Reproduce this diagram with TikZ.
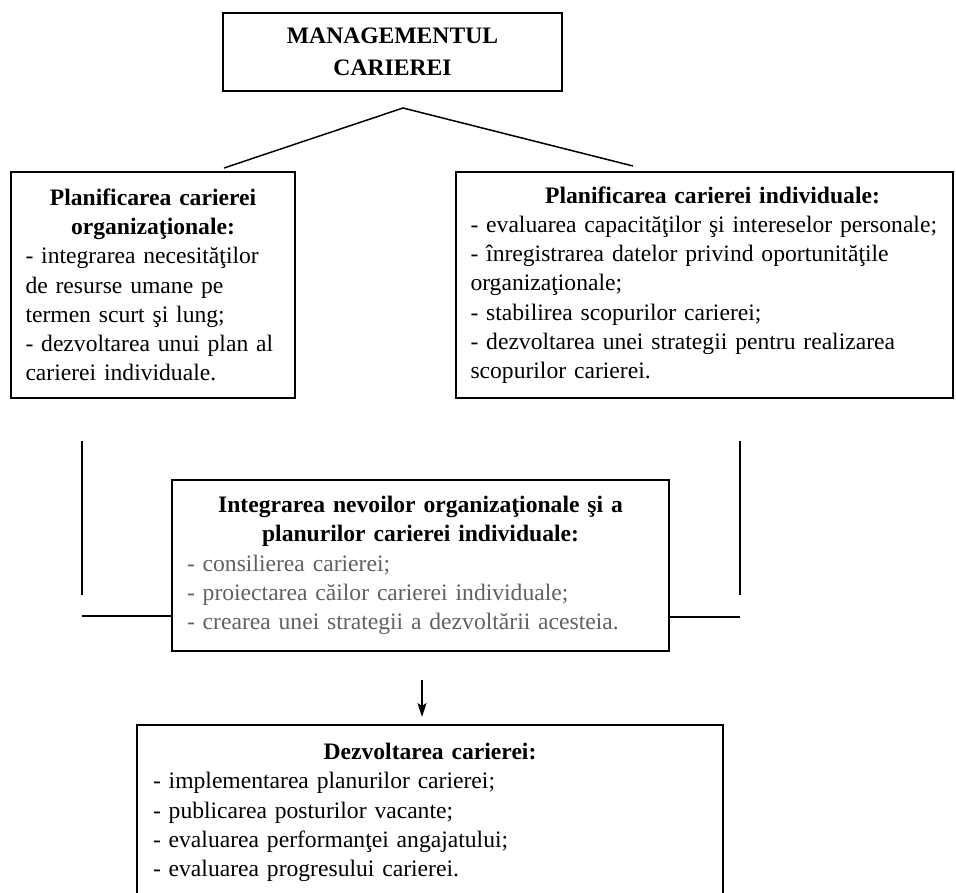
\documentclass[tikz,border=0pt]{standalone}
\usepackage{fontspec}
\setmainfont{Liberation Serif}
\usetikzlibrary{arrows.meta,calc}
\begin{document}
\begin{tikzpicture}[x=1pt,y=1pt,
  box/.style={draw=black, line width=1.8pt, rectangle, anchor=north west, outer sep=0pt,
    inner ysep=0pt, font=\fontsize{23.6}{29.2}\selectfont, align=left},
  link/.style={draw=black, line width=1.5pt}]
\useasboundingbox (0,0) rectangle (956,-892);
\fill[white] (0,0) rectangle (956,-892);
\clip (0,0) rectangle (956,-892);

\node[box, align=center, font=\fontsize{23.6}{32}\selectfont\bfseries,
  minimum width=339pt, minimum height=78pt, inner xsep=0pt] (top) at (223,-13)
  {MANAGEMENTUL\\CARIEREI};

\node[box, text width=255pt, inner xsep=14.5pt, minimum height=226pt] (left) at (11,-172)
  {\makebox[255pt][c]{\bfseries Planificarea carierei}\\
   \makebox[255pt][c]{\bfseries organizaţionale:}\\
   - integrarea necesităţilor\\
   de resurse umane pe\\
   termen scurt şi lung;\\
   - dezvoltarea unui plan al\\
   carierei individuale.};

\node[box, text width=468pt, inner xsep=14.5pt, minimum height=226pt] (right) at (456,-172)
  {\makebox[484pt][c]{\bfseries Planificarea carierei individuale:}\\
   - evaluarea capacităţilor şi intereselor personale;\\
   - înregistrarea datelor privind oportunităţile\\
   organizaţionale;\\
   - stabilirea scopurilor carierei;\\
   - dezvoltarea unei strategii pentru realizarea\\
   scopurilor carierei.};

\node[box, text width=467pt, inner xsep=15pt, minimum height=171pt, text=black!62] (mid) at (172,-480)
  {\makebox[467pt][c]{\color{black}\bfseries Integrarea nevoilor organizaţionale şi a}\\
   \makebox[467pt][c]{\color{black}\bfseries planurilor carierei individuale:}\\
   - consilierea carierei;\\
   - proiectarea căilor carierei individuale;\\
   - crearea unei strategii a dezvoltării acesteia.};

\node[box, text width=554pt, inner xsep=16pt, minimum height=175pt] (bot) at (137,-725)
  {\makebox[554pt][c]{\bfseries Dezvoltarea carierei:}\\
   - implementarea planurilor carierei;\\
   - publicarea posturilor vacante;\\
   - evaluarea performanţei angajatului;\\
   - evaluarea progresului carierei.};

% connectors from top box to the two planning boxes
\coordinate (apex) at ($(top.south)+(10.5,-17)$);
\coordinate (lend) at ($(left.north east)+(-71,4)$);
\coordinate (rend) at ($(right.north west)+(177,6)$);
\draw[link] (lend) -- (apex) -- (rend);

% side lines towards the integration box
\coordinate (lv1) at ($(left.south west)+(71,-43)$);
\coordinate (lv2) at ($(mid.south west)+(-90,56)$);
\coordinate (lh) at ($(mid.south west)+(-90,35)$);
\draw[link] (lv1) -- (lv2);
\draw[link] (lh) -- (lh -| mid.west);

\coordinate (rv1) at ($(right.south west)+(284,-43)$);
\coordinate (rv2) at ($(mid.south east)+(71,56)$);
\coordinate (rh) at ($(mid.south east)+(71,34)$);
\draw[link] (rv1) -- (rv2);
\draw[link] (rh) -- (rh -| mid.east);

% arrow to development box
\coordinate (a1) at ($(mid.south)+(1.5,-29)$);
\coordinate (a2) at ($(a1 |- bot.north)+(0,8)$);
\draw[link, -{Stealth[length=14pt,width=9pt,inset=3pt]}] (a1) -- (a2);
\end{tikzpicture}
\end{document}
